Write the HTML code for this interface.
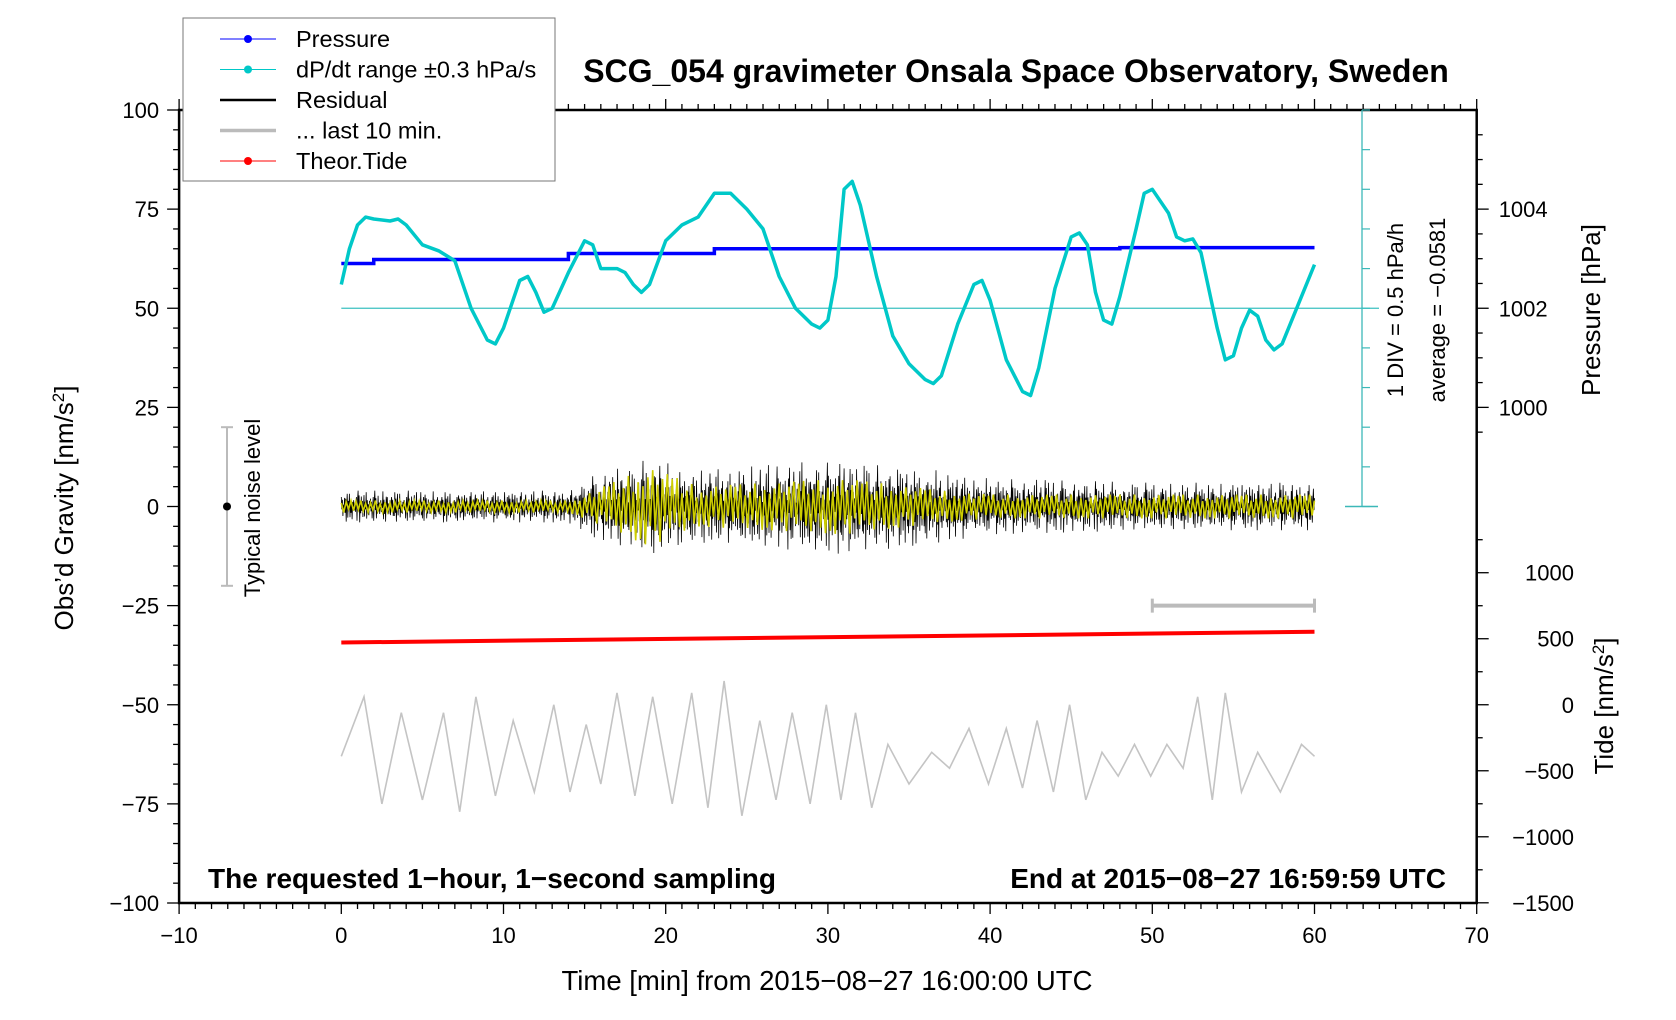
<!DOCTYPE html>
<html><head><meta charset="utf-8"><style>
body{margin:0;background:#fff}
svg{display:block;font-family:"Liberation Sans",sans-serif}
</style></head><body>
<svg id="c" width="1676" height="1020" viewBox="0 0 1676 1020"></svg>
<script>
// ---- data ----
const dpT=[0,0.5,1,1.5,2,3,3.5,4,5,6,7,8,9,9.5,10,11,11.5,12,12.5,13,14,15,15.5,16,17,17.5,18,18.5,19,20,21,22,23,24,25,26,27,28,29,29.5,30,30.5,31,31.5,32,33,34,35,36,36.5,37,38,39,39.5,40,41,42,42.5,43,44,45,45.5,46,46.5,47,47.5,48,49,49.5,50,51,51.5,52,52.5,53,54,54.5,55,55.5,56,56.5,57,57.5,58,59,60];
const dpV=[56,65,71,73,72.5,72,72.5,71,66,64.5,62,50,42,41,45,57,58,54,49,50,59,67,66,60,60,59,56,54,56,67,71,73,79,79,75,70,58,50,46,45,47,58,80,82,76,58,43,36,32,31,33,46,56,57,52,37,29,28,35,55,68,69,66,54,47,46,53,70,79,80,74,68,67,67.5,64,45,37,38,45,49.5,48,42,39.5,41,51,61];
const presT=[0,2,14,23,48,60];
const presV=[61.3,62.3,63.8,65.0,65.3,65.4];
const tideT=[0,60];
const tideV=[-34.3,-31.6];
const envT=[0,14,15,19,22,31,37,40,50,60];
const resEnv=[4,4,7,12,9,12,9,7,6,6];
const yelEnv=[1.5,1.5,3,10,5,7,4,3,3,3];
const greyT=[0,1.4,2.5,3.7,5,6.3,7.3,8.3,9.5,10.6,11.9,13.1,14.1,15.1,16,17,18.1,19.2,20.4,21.6,22.6,23.6,24.7,25.8,26.8,27.8,28.9,29.9,30.8,31.7,32.7,33.7,35,36.4,37.5,38.7,39.9,41,42,42.9,43.9,44.9,45.9,46.9,47.9,48.9,49.9,50.9,51.9,52.8,53.7,54.5,55.5,56.5,57.9,59.2,60];
const greyV=[-63,-48,-75,-52,-74,-52,-77,-48,-73,-54,-72,-50,-72,-55,-70,-47,-73,-48,-75,-47,-76,-44,-78,-54,-74,-52,-75,-50,-74,-52,-76,-60,-70,-62,-66,-56,-70,-56,-71,-54,-72,-50,-74,-62,-68,-60,-68,-60,-66,-48,-74,-47,-72,-62,-72,-60,-63];
const xTicks=[-10,0,10,20,30,40,50,60,70];
const yTicks=[100,75,50,25,0,-25,-50,-75,-100];
const pTicks=[1004,1002,1000];
const tTicks=[1000,500,0,-500,-1000,-1500];
// ---- scales ----
const X=t=>341.3+(t)*16.22;
const Y=v=>506.5-v*3.965;
const PY=p=>Y(50+(p-1002)*12.5);
const TY=g=>Y(-50+g*0.0333);
const svg=document.getElementById('c');
const NS='http://www.w3.org/2000/svg';
function mk(tag,at,parent){const e=document.createElementNS(NS,tag);for(const k in at)e.setAttribute(k,at[k]);(parent||svg).appendChild(e);return e;}
function txt(s,x,y,at){const e=mk('text',Object.assign({x:x,y:y},at||{}));e.textContent=s;return e;}
function interp(ts,vs,t){for(let i=1;i<ts.length;i++){if(t<=ts[i]){const f=(t-ts[i-1])/(ts[i]-ts[i-1]);return vs[i-1]+f*(vs[i]-vs[i-1]);}}return vs[vs.length-1];}

let fr=mk('rect',{x:X(-10),y:Y(100),width:X(70)-X(-10),height:Y(-100)-Y(100),fill:'none',stroke:'#000','stroke-width':2.5});

for(let t=-10;t<=70;t++){const maj=t%10===0;
 mk('line',{x1:X(t),x2:X(t),y1:Y(-100),y2:Y(-100)+(maj?11:6),stroke:'#000','stroke-width':1.3});
 mk('line',{x1:X(t),x2:X(t),y1:Y(100),y2:Y(100)-(maj?11:6),stroke:'#000','stroke-width':1.3});}
xTicks.forEach(t=>{const e=txt(String(t).replace('-','\u2212'),X(t),943,{'font-size':22,'text-anchor':'middle'});
 });
for(let v=-100;v<=100;v+=5){const maj=v%25===0;mk('line',{x1:X(-10),x2:X(-10)-(maj?12:6),y1:Y(v),y2:Y(v),stroke:'#000','stroke-width':1.3});}
yTicks.forEach(v=>{const e=txt(String(v).replace('-','\u2212'),X(-10)-20,Y(v)+8,{'font-size':22,'text-anchor':'end'});
 });
for(let p=999.5;p<=1005.5;p+=0.5){const maj=Math.abs(p-Math.round(p/2)*2)<0.01;mk('line',{x1:X(70),x2:X(70)+(maj?12:6),y1:PY(p),y2:PY(p),stroke:'#000','stroke-width':1.3});}
pTicks.forEach(p=>{const e=txt(String(p),X(70)+22,PY(p)+8,{'font-size':22});
 });
for(let g=-1500;g<=1250;g+=250){const maj=g%500===0;mk('line',{x1:X(70),x2:X(70)+(maj?12:6),y1:TY(g),y2:TY(g),stroke:'#000','stroke-width':1.3});}
tTicks.forEach(g=>{const e=txt(String(g).replace('-','\u2212'),1574,TY(g)+8,{'font-size':22,'text-anchor':'end'});
 });

const lg=mk('g',{});
mk('rect',{x:183,y:18,width:372,height:163,fill:'#fff',stroke:'#777','stroke-width':1},lg);
const leg=[['Pressure','#0000ff',1,true],['dP/dt range \u00b10.3 hPa/s','#00c8c8',1,true],['Residual','#000',2.5,false],['... last 10 min.','#bbb',3.5,false],['Theor.Tide','#ff0000',1,true]];
leg.forEach((l,i)=>{const y=39+i*30.5;const g=mk('g',{},lg);
 mk('line',{x1:220,x2:276,y1:y,y2:y,stroke:l[1],'stroke-width':l[2]},g);
 if(l[3])mk('circle',{cx:248,cy:y,r:4,fill:l[1]},g);
 txt(l[0],296,y+8,{'font-size':23.5});});

let tt=txt('SCG_054 gravimeter Onsala Space Observatory, Sweden',1016,82,{'font-size':32,'font-weight':'bold','text-anchor':'middle'});

let xa=txt('Time [min] from 2015\u221208\u221227 16:00:00 UTC',827,990,{'font-size':27.5,'text-anchor':'middle'});

let ya=mk('text',{x:0,y:0,'font-size':26,'text-anchor':'middle',transform:'translate(73,508) rotate(-90)'});
ya.innerHTML='Obs\u2019d Gravity [nm/s<tspan dy="-9" font-size="17">2</tspan><tspan dy="9">]</tspan>';

let pa=txt('Pressure [hPa]',0,0,{'font-size':26,'text-anchor':'middle',transform:'translate(1600,310) rotate(-90)'});

let ta=mk('text',{x:0,y:0,'font-size':26,'text-anchor':'middle',transform:'translate(1613,706) rotate(-90)'});
ta.innerHTML='Tide [nm/s<tspan dy="-9" font-size="17">2</tspan><tspan dy="9">]</tspan>';

let d1=txt('1 DIV = 0.5 hPa/h',0,0,{'font-size':22,'text-anchor':'middle',transform:'translate(1403,310) rotate(-90)'});

let d2=txt('average = \u22120.0581',0,0,{'font-size':22,'text-anchor':'middle',transform:'translate(1445,310) rotate(-90)'});

let b1=txt('The requested 1\u2212hour, 1\u2212second sampling',208,888,{'font-size':28,'font-weight':'bold'});

let b2=txt('End at 2015\u221208\u221227 16:59:59 UTC',1446,888,{'font-size':28,'font-weight':'bold','text-anchor':'end'});


const sx=1362;
mk('line',{x1:sx,x2:sx,y1:Y(100),y2:Y(0),stroke:'#3cb8b8','stroke-width':1.3});
for(let i=0;i<=10;i++){const y=Y(100)+i*(Y(0)-Y(100))/10;mk('line',{x1:sx,x2:sx+8,y1:y,y2:y,stroke:'#3cb8b8','stroke-width':1.2});}
mk('line',{x1:1345,x2:1378,y1:Y(0),y2:Y(0),stroke:'#3cb8b8','stroke-width':1.5});
let ref=mk('line',{x1:X(0),x2:1379,y1:Y(50),y2:Y(50),stroke:'#3cc0c0','stroke-width':1.3});


const nx=227;
mk('line',{x1:nx,x2:nx,y1:Y(20),y2:Y(-20),stroke:'#bbb','stroke-width':2});
mk('line',{x1:nx-6,x2:nx+6,y1:Y(20),y2:Y(20),stroke:'#bbb','stroke-width':2});
mk('line',{x1:nx-6,x2:nx+6,y1:Y(-20),y2:Y(-20),stroke:'#bbb','stroke-width':2});
mk('circle',{cx:nx,cy:Y(0),r:4,fill:'#000'});
let nl=txt('Typical noise level',0,0,{'font-size':22,'text-anchor':'middle',transform:'translate(260,508) rotate(-90)'});


let lb=mk('g',{});
mk('line',{x1:X(50),x2:X(60),y1:Y(-25),y2:Y(-25),stroke:'#bbb','stroke-width':4},lb);
mk('line',{x1:X(50),x2:X(50),y1:Y(-25)-7,y2:Y(-25)+7,stroke:'#bbb','stroke-width':3},lb);
mk('line',{x1:X(60),x2:X(60),y1:Y(-25)-7,y2:Y(-25)+7,stroke:'#bbb','stroke-width':3},lb);

let gp=greyT.map((t,i)=>X(t).toFixed(1)+','+Y(greyV[i]).toFixed(1)).join(' ');
let gl=mk('polyline',{points:gp,fill:'none',stroke:'#c4c4c4','stroke-width':1.6});


let td=mk('line',{x1:X(tideT[0]),x2:X(tideT[1]),y1:Y(tideV[0]),y2:Y(tideV[1]),stroke:'#ff0000','stroke-width':4});


// residual drawn from envelopes with an irregular fixed shape pattern
const wigA=[1,-0.3,0.7,-1,0.2,-0.6,0.9,-0.4,0.5,-0.95,0.1,0.8,-0.7,0.35,-0.2,1,-0.85,0.45,-0.5,0.25,-1,0.65,-0.15,0.9,-0.55,0.3,-0.75,0.05,0.6,-0.9,0.4];
const wigB=[0.6,1,0.8,0.45,1,0.7,0.9,0.55,1,0.75,0.5,0.95,0.65];
let rp=[],yp=[];
for(let k=0;k<=1800;k++){const t=k/30;const e=interp(envT,resEnv,t);rp.push(X(t).toFixed(1)+','+Y(e*wigA[k%wigA.length]*wigB[Math.floor(k/7)%wigB.length]).toFixed(1));}
for(let k=0;k<=400;k++){const t=k*60/400;const e=interp(envT,yelEnv,t);yp.push(X(t).toFixed(1)+','+Y(e*(k%2?-1:1)*wigB[k%wigB.length]).toFixed(1));}
let rl=mk('polyline',{points:rp.join(' '),fill:'none',stroke:'#000','stroke-width':0.8});

let yl=mk('polyline',{points:yp.join(' '),fill:'none',stroke:'#cccc00','stroke-width':1.6});


let pp=[];for(let i=0;i<presT.length-1;i++){pp.push(X(presT[i])+','+PY(1002+(presV[i]-50)/12.5));pp.push(X(presT[i+1])+','+PY(1002+(presV[i]-50)/12.5));}
let pl=mk('polyline',{points:pp.join(' '),fill:'none',stroke:'#0000ff','stroke-width':3.5});


let dp=dpT.map((t,i)=>X(t).toFixed(1)+','+Y(dpV[i]).toFixed(1)).join(' ');
let dl=mk('polyline',{points:dp,fill:'none',stroke:'#00c8c8','stroke-width':3.5,'stroke-linejoin':'round'});

</script>
</body></html>
